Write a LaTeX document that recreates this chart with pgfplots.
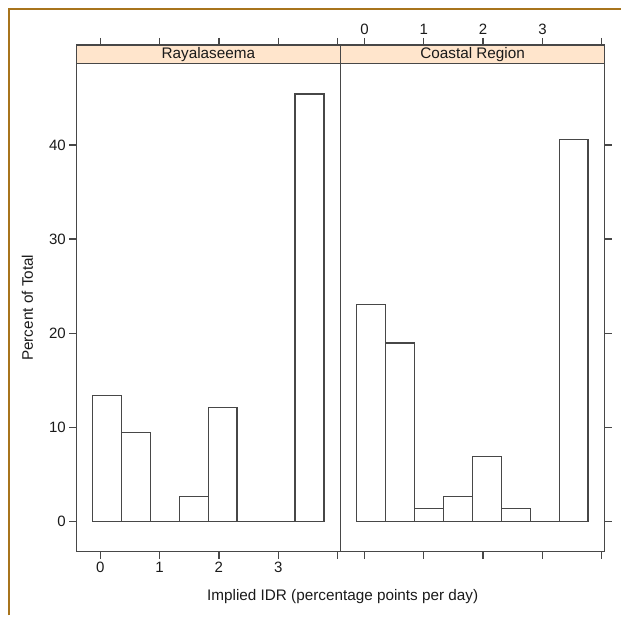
\documentclass[border=0pt]{standalone}
\usepackage{fontspec}
\setmainfont{Liberation Sans}
\usepackage{pgfplots}
\pgfplotsset{compat=1.18}
\definecolor{linecol}{HTML}{474747}
\definecolor{txtcol}{HTML}{1A1A1A}
\definecolor{stripcol}{HTML}{FFE5CC}
\definecolor{framecol}{HTML}{A8741C}

\pgfplotsset{
 panel/.style={
  scale only axis, anchor=south west,
  width=264.5pt, height=507.3pt,
  xmin=-0.405, xmax=4.05, ymin=-3.18, ymax=50.61,
  axis on top,
  xtick={0,1,2,3,4}, xticklabels={0,1,2,3,{}},
  ytick={0,10,20,30,40},
  tick align=outside, major tick length=7pt,
  axis line style={linecol, line width=1.3pt},
  tick style={linecol, line width=1.3pt},
  tick label style={font=\fontsize{15}{17}\selectfont, text=txtcol},
  /pgf/number format/assume math mode=true,
 },
 bars/.style={ybar interval, fill=white, draw=linecol, line width=1.3pt},
}

\begin{document}
\begin{tikzpicture}[font=\fontsize{15.3}{18}\selectfont]
\path (0,0) rectangle (622pt,616pt);
\draw[framecol, line width=1.2pt] (9pt,0) -- (9pt,607pt) -- (622pt,607pt);

% Rayalaseema
\begin{axis}[panel, at={(76.3pt,63.7pt)},
 xtick pos=both, xticklabel pos=lower, ytick pos=left]
\fill[stripcol] (axis cs:-0.405,48.67) rectangle (axis cs:4.05,50.61);
\draw[linecol, line width=1.3pt] (axis cs:-0.405,48.67) -- (axis cs:4.05,48.67);
\node[text=txtcol] at (axis cs:1.8225,49.64) {Rayalaseema};
\addplot[bars] coordinates {(-0.13,13.42) (0.3575,9.47) (0.845,0) (1.3325,2.71)
 (1.82,12.12) (2.3075,0) (2.795,0) (3.2825,45.4) (3.77,0)};
\end{axis}

% Coastal Region
\begin{axis}[panel, at={(340.8pt,63.7pt)},
 xtick pos=both, xticklabel pos=upper, ytick pos=right, yticklabels={}]
\fill[stripcol] (axis cs:-0.405,48.67) rectangle (axis cs:4.05,50.61);
\draw[linecol, line width=1.3pt] (axis cs:-0.405,48.67) -- (axis cs:4.05,48.67);
\node[text=txtcol] at (axis cs:1.8225,49.64) {Coastal Region};
\addplot[bars] coordinates {(-0.13,23.07) (0.3575,18.98) (0.845,1.44) (1.3325,2.71)
 (1.82,6.92) (2.3075,1.44) (2.795,0) (3.2825,40.6) (3.77,0)};
\end{axis}

\node[rotate=90, text=txtcol] at (27.5pt,308pt) {Percent of Total};
\node[text=txtcol] at (343pt,19pt) {Implied IDR (percentage points per day)};
\end{tikzpicture}
\end{document}
